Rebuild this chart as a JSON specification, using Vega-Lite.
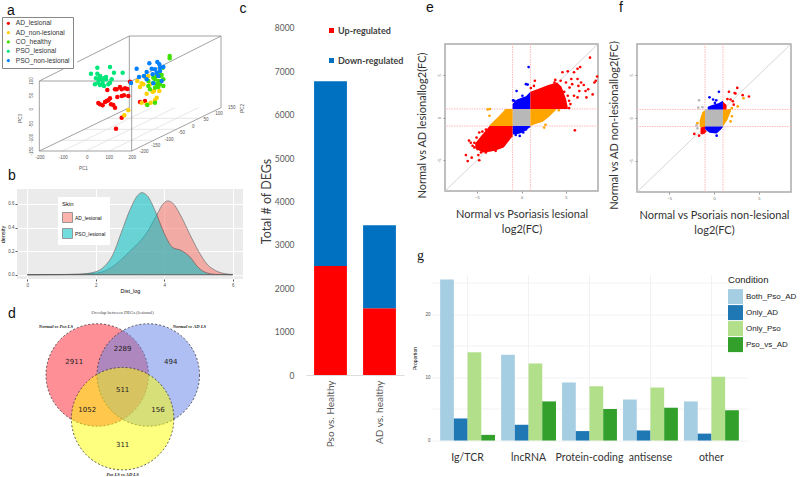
{
"$schema":"https://vega.github.io/schema/vega-lite/v6.json",
"padding":0,"spacing":8,
"resolve":{"scale":{"color":"independent","fill":"independent"},"legend":{"color":"independent"}},
"config":{"view":{"stroke":null},"axis":{"grid":false},"title":{"font":"Liberation Sans","fontSize":14,"fontWeight":"normal","anchor":"start","frame":"group","color":"#111111"}},
"hconcat":[
{"columns":2,"spacing":0,"bounds":"flush","resolve":{"scale":{"color":"independent","fill":"independent"},"legend":{"color":"independent"}},
"concat":[
{"width":17,"height":165,"data":{"values":[{}]},"mark":{"type":"text","text":""},"encoding":{}},
{"width":235,"height":165,"title":{"text":"a","dx":-10,"offset":-16.5},
 "layer":[
 {"data":{"values":[
  {"h":-70,"v":-125,"h2":197,"v2":5},{"h":0,"v":-125,"h2":267,"v2":5},{"h":70,"v":-125,"h2":337,"v2":5},
  {"h":-74,"v":-93,"h2":203,"v2":-93},{"h":-5,"v":-60,"h2":272,"v2":-60},{"h":63,"v":-27,"h2":340,"v2":-27}]},
  "mark":{"type":"rule","color":"#dddddd","strokeWidth":0.7},
  "encoding":{"x":{"field":"h","type":"quantitative","scale":{"domain":[-207,498]},"axis":null},"y":{"field":"v","type":"quantitative","scale":{"domain":[-170,325]},"axis":null},"x2":{"field":"h2"},"y2":{"field":"v2"}}},
 {"data":{"values":[
  {"h":-140,"v":85,"h2":137,"v2":85},{"h":137,"v":85,"h2":137,"v2":-125},{"h":-140,"v":-125,"h2":137,"v2":-125},{"h":-140,"v":85,"h2":-140,"v2":-125},
  {"h":130,"v":220,"h2":405,"v2":220},{"h":405,"v":220,"h2":405,"v2":5},{"h":130,"v":220,"h2":130,"v2":5},{"h":-140,"v":85,"h2":-68,"v2":121},{"h":-26,"v":142,"h2":130,"v2":220},
  {"h":137,"v":85,"h2":405,"v2":220},{"h":137,"v":-125,"h2":405,"v2":5},{"h":-140,"v":-125,"h2":130,"v2":5}]},
  "mark":{"type":"rule","color":"#8a8a8a","strokeWidth":0.8},
  "encoding":{"x":{"field":"h","type":"quantitative","scale":{"domain":[-207,498]},"axis":null},"y":{"field":"v","type":"quantitative","scale":{"domain":[-170,325]},"axis":null},"x2":{"field":"h2"},"y2":{"field":"v2"}}},
 {"data":{"values":[
  {"t":"-200","h":-138,"v":-145},{"t":"-100","h":-68,"v":-145},{"t":"0","h":4,"v":-145},{"t":"100","h":70,"v":-145},{"t":"200","h":139,"v":-145},
  {"t":"150","h":437,"v":5},{"t":"100","h":399,"v":-15},{"t":"50","h":360,"v":-33},{"t":"0","h":322,"v":-53},{"t":"-50","h":287,"v":-72},{"t":"-100","h":249,"v":-91},{"t":"-150","h":209,"v":-111},{"t":"-200","h":174,"v":-128},{"t":"PC1","h":-8,"v":-180}]},
  "mark":{"type":"text","font":"Liberation Sans","fontSize":4.5,"color":"#555555"},
  "encoding":{"x":{"field":"h","type":"quantitative","scale":{"domain":[-207,498]},"axis":null},"y":{"field":"v","type":"quantitative","scale":{"domain":[-170,325]},"axis":null},"text":{"field":"t"}}},
 {"data":{"values":[{"t":"c","h":471,"v":301}]},
  "mark":{"type":"text","font":"Liberation Sans","fontSize":14,"color":"#111111"},
  "encoding":{"x":{"field":"h","type":"quantitative","scale":{"domain":[-207,498]},"axis":null},"y":{"field":"v","type":"quantitative","scale":{"domain":[-170,325]},"axis":null},"text":{"field":"t"}}},
 {"data":{"values":[
  {"t":"100","h":-161,"v":85},{"t":"50","h":-161,"v":42},{"t":"0","h":-161,"v":0},{"t":"-50","h":-161,"v":-45},{"t":"-100","h":-161,"v":-87},{"t":"-150","h":-161,"v":-125},{"t":"PC3","h":-196,"v":-27},{"t":"PC2","h":470,"v":3}]},
  "mark":{"type":"text","font":"Liberation Sans","fontSize":4.5,"color":"#555555","angle":270},
  "encoding":{"x":{"field":"h","type":"quantitative","scale":{"domain":[-207,498]},"axis":null},"y":{"field":"v","type":"quantitative","scale":{"domain":[-170,325]},"axis":null},"text":{"field":"t"}}},
 {"data":{"values":[
  {"g":"AD_lesional","h":90,"v":-58},{"g":"AD_lesional","h":107,"v":-25},{"g":"AD_lesional","h":64,"v":58},{"g":"AD_lesional","h":87,"v":60},{"g":"AD_lesional","h":102,"v":67},{"g":"AD_lesional","h":117,"v":63},{"g":"AD_lesional","h":92,"v":60},{"g":"AD_lesional","h":107,"v":60},{"g":"AD_lesional","h":124,"v":61},{"g":"AD_lesional","h":132,"v":83},{"g":"AD_lesional","h":94,"v":37},{"g":"AD_lesional","h":107,"v":40},{"g":"AD_lesional","h":114,"v":42},{"g":"AD_lesional","h":127,"v":40},{"g":"AD_lesional","h":42,"v":15},{"g":"AD_lesional","h":50,"v":12},{"g":"AD_lesional","h":57,"v":22},{"g":"AD_lesional","h":67,"v":27},{"g":"AD_lesional","h":72,"v":33},{"g":"AD_lesional","h":75,"v":15},{"g":"AD_lesional","h":87,"v":5},{"g":"AD_lesional","h":37,"v":19},{"g":"AD_lesional","h":62,"v":25},{"g":"AD_lesional","h":177,"v":25},{"g":"AD_lesional","h":162,"v":22},{"g":"AD_lesional","h":82,"v":13},
  {"g":"AD_non-lesional","h":115,"v":-18},{"g":"AD_non-lesional","h":127,"v":-3},{"g":"AD_non-lesional","h":154,"v":85},{"g":"AD_non-lesional","h":167,"v":78},{"g":"AD_non-lesional","h":177,"v":97},{"g":"AD_non-lesional","h":187,"v":100},{"g":"AD_non-lesional","h":162,"v":67},{"g":"AD_non-lesional","h":204,"v":55},{"g":"AD_non-lesional","h":220,"v":55},{"g":"AD_non-lesional","h":182,"v":47},{"g":"AD_non-lesional","h":212,"v":35},{"g":"AD_non-lesional","h":207,"v":27},{"g":"AD_non-lesional","h":194,"v":20},{"g":"AD_non-lesional","h":182,"v":15},{"g":"AD_non-lesional","h":167,"v":20},{"g":"AD_non-lesional","h":172,"v":75},{"g":"AD_non-lesional","h":192,"v":75},{"g":"AD_non-lesional","h":200,"v":53},
  {"g":"CO_healthy","h":251,"v":160},{"g":"CO_healthy","h":251,"v":153},{"g":"CO_healthy","h":230,"v":125},{"g":"CO_healthy","h":187,"v":70},{"g":"CO_healthy","h":184,"v":13},{"g":"CO_healthy","h":207,"v":20},{"g":"CO_healthy","h":212,"v":100},{"g":"CO_healthy","h":222,"v":100},{"g":"CO_healthy","h":207,"v":90},{"g":"CO_healthy","h":217,"v":85},{"g":"CO_healthy","h":232,"v":90},{"g":"CO_healthy","h":202,"v":80},{"g":"CO_healthy","h":212,"v":75},{"g":"CO_healthy","h":222,"v":75},{"g":"CO_healthy","h":232,"v":70},{"g":"CO_healthy","h":192,"v":60},{"g":"CO_healthy","h":207,"v":65},{"g":"CO_healthy","h":187,"v":85},{"g":"CO_healthy","h":220,"v":110},{"g":"CO_healthy","h":202,"v":95},{"g":"CO_healthy","h":227,"v":103},{"g":"CO_healthy","h":217,"v":67},
  {"g":"PSO_lesional","h":34,"v":125},{"g":"PSO_lesional","h":72,"v":127},{"g":"PSO_lesional","h":15,"v":107},{"g":"PSO_lesional","h":84,"v":110},{"g":"PSO_lesional","h":110,"v":110},{"g":"PSO_lesional","h":34,"v":107},{"g":"PSO_lesional","h":42,"v":100},{"g":"PSO_lesional","h":52,"v":93},{"g":"PSO_lesional","h":60,"v":90},{"g":"PSO_lesional","h":30,"v":93},{"g":"PSO_lesional","h":37,"v":90},{"g":"PSO_lesional","h":47,"v":90},{"g":"PSO_lesional","h":77,"v":90},{"g":"PSO_lesional","h":72,"v":80},{"g":"PSO_lesional","h":27,"v":75},{"g":"PSO_lesional","h":42,"v":73},{"g":"PSO_lesional","h":54,"v":70},{"g":"PSO_lesional","h":67,"v":75},{"g":"PSO_lesional","h":37,"v":80},{"g":"PSO_lesional","h":50,"v":80},{"g":"PSO_lesional","h":60,"v":97},
  {"g":"PSO_non-lesional","h":135,"v":79},{"g":"PSO_non-lesional","h":152,"v":122},{"g":"PSO_non-lesional","h":190,"v":138},{"g":"PSO_non-lesional","h":214,"v":142},{"g":"PSO_non-lesional","h":220,"v":135},{"g":"PSO_non-lesional","h":222,"v":125},{"g":"PSO_non-lesional","h":197,"v":122},{"g":"PSO_non-lesional","h":182,"v":112},{"g":"PSO_non-lesional","h":159,"v":97},{"g":"PSO_non-lesional","h":207,"v":120},{"g":"PSO_non-lesional","h":222,"v":115},{"g":"PSO_non-lesional","h":232,"v":127},{"g":"PSO_non-lesional","h":182,"v":90},{"g":"PSO_non-lesional","h":202,"v":78},{"g":"PSO_non-lesional","h":227,"v":85},{"g":"PSO_non-lesional","h":212,"v":110},{"g":"PSO_non-lesional","h":217,"v":100},{"g":"PSO_non-lesional","h":200,"v":105},{"g":"PSO_non-lesional","h":174,"v":100}]},
  "mark":{"type":"circle","size":20,"opacity":1},
  "encoding":{"x":{"field":"h","type":"quantitative","scale":{"domain":[-207,498]},"axis":null},"y":{"field":"v","type":"quantitative","scale":{"domain":[-170,325]},"axis":null},
   "color":{"field":"g","type":"nominal","scale":{"domain":["AD_lesional","AD_non-lesional","CO_healthy","PSO_lesional","PSO_non-lesional"],"range":["#ff0000","#ffd000","#40e000","#00e67a","#0080ff"]},
    "legend":{"title":null,"orient":"none","legendX":-15,"legendY":16,"fillColor":"#ffffff","strokeColor":"#888888","padding":3,"symbolSize":10,"labelFont":"Liberation Sans","labelFontSize":6.7,"labelColor":"#333333","rowPadding":1.3,"labelOffset":4}}}}
 ]},
{"width":17,"height":23,"data":{"values":[{}]},"mark":{"type":"text","text":""},"encoding":{}},
{"width":1,"height":23,"data":{"values":[{}]},"mark":{"type":"text","text":""},"encoding":{}},
{"width":17,"height":90,"data":{"values":[{}]},"mark":{"type":"text","text":""},"encoding":{}},
{"width":226,"height":90,"title":{"text":"b","dx":-9,"offset":6},"view":{"fill":"#ebebeb","stroke":null},
 "data":{"values":[
  {"s":"AD_lesional","x":0,"d":0},{"s":"AD_lesional","x":1,"d":0.002},{"s":"AD_lesional","x":1.5,"d":0.004},{"s":"AD_lesional","x":2,"d":0.012},{"s":"AD_lesional","x":2.25,"d":0.03},{"s":"AD_lesional","x":2.5,"d":0.07},{"s":"AD_lesional","x":2.75,"d":0.13},{"s":"AD_lesional","x":3,"d":0.2},{"s":"AD_lesional","x":3.25,"d":0.27},{"s":"AD_lesional","x":3.5,"d":0.36},{"s":"AD_lesional","x":3.75,"d":0.49},{"s":"AD_lesional","x":4,"d":0.61},{"s":"AD_lesional","x":4.1,"d":0.625},{"s":"AD_lesional","x":4.25,"d":0.605},{"s":"AD_lesional","x":4.5,"d":0.49},{"s":"AD_lesional","x":4.75,"d":0.34},{"s":"AD_lesional","x":5,"d":0.2},{"s":"AD_lesional","x":5.25,"d":0.09},{"s":"AD_lesional","x":5.5,"d":0.035},{"s":"AD_lesional","x":5.75,"d":0.01},{"s":"AD_lesional","x":6,"d":0.002},
  {"s":"PSO_lesional","x":0,"d":0},{"s":"PSO_lesional","x":1,"d":0.001},{"s":"PSO_lesional","x":1.5,"d":0.004},{"s":"PSO_lesional","x":2,"d":0.025},{"s":"PSO_lesional","x":2.25,"d":0.07},{"s":"PSO_lesional","x":2.5,"d":0.17},{"s":"PSO_lesional","x":2.75,"d":0.36},{"s":"PSO_lesional","x":3,"d":0.55},{"s":"PSO_lesional","x":3.25,"d":0.68},{"s":"PSO_lesional","x":3.35,"d":0.695},{"s":"PSO_lesional","x":3.5,"d":0.67},{"s":"PSO_lesional","x":3.75,"d":0.53},{"s":"PSO_lesional","x":4,"d":0.35},{"s":"PSO_lesional","x":4.25,"d":0.23},{"s":"PSO_lesional","x":4.5,"d":0.205},{"s":"PSO_lesional","x":4.75,"d":0.15},{"s":"PSO_lesional","x":5,"d":0.06},{"s":"PSO_lesional","x":5.25,"d":0.015},{"s":"PSO_lesional","x":5.5,"d":0.003},{"s":"PSO_lesional","x":6,"d":0}]},
 "mark":{"type":"area","interpolate":"monotone","opacity":0.55,"stroke":"#333333","strokeWidth":0.9,"strokeOpacity":1},
 "encoding":{
  "x":{"field":"x","type":"quantitative","scale":{"domain":[-0.3,6.3],"nice":false},"axis":{"values":[0,2,4,6],"grid":true,"gridColor":"#ffffff","domain":false,"tickSize":2,"tickColor":"#555555","labelFont":"Liberation Sans","labelFontSize":4.5,"labelColor":"#4d4d4d","labelPadding":1,"title":"Dist_log","titleFont":"Liberation Sans","titleFontSize":5.5,"titleFontWeight":"normal","titlePadding":2,"format":"d"}},
  "y":{"field":"d","type":"quantitative","stack":null,"scale":{"domain":[-0.036,0.726],"nice":false,"zero":false},"axis":{"values":[0,0.2,0.4,0.6],"format":".1f","grid":true,"gridColor":"#ffffff","domain":false,"tickSize":2,"tickColor":"#555555","labelFont":"Liberation Sans","labelFontSize":4.5,"labelColor":"#4d4d4d","labelPadding":1,"title":"density","titleFont":"Liberation Sans","titleFontSize":5.5,"titleFontWeight":"normal","titlePadding":2}},
  "color":{"field":"s","type":"nominal","scale":{"domain":["AD_lesional","PSO_lesional"],"range":["#f8766d","#00bfc4"]},"legend":{"title":"Skin","titleFont":"Liberation Sans","titleFontSize":6,"titleFontWeight":"normal","titleColor":"#111111","orient":"none","legendX":41,"legendY":8,"fillColor":"#ffffff","padding":4,"symbolType":"square","symbolSize":100,"symbolStrokeColor":"#333333","symbolStrokeWidth":0.9,"labelFont":"Liberation Sans","labelFontSize":5,"labelColor":"#111111","rowPadding":1,"labelOffset":2}}}},
{"width":17,"height":17,"data":{"values":[{}]},"mark":{"type":"text","text":""},"encoding":{}},
{"width":1,"height":17,"data":{"values":[{}]},"mark":{"type":"text","text":""},"encoding":{}},
{"width":17,"height":182,"data":{"values":[{}]},"mark":{"type":"text","text":""},"encoding":{}},
{"width":235,"height":182,"title":{"text":"d","dx":-9,"offset":-25},
 "layer":[
 {"data":{"values":[{"set":"Normal vs Pso LS","vx":36,"vy":43.4},{"set":"Normal vs AD LS","vx":54.9,"vy":43.4},{"set":"Pso LS vs AD LS","vx":45.4,"vy":67.4}]},
  "mark":{"type":"point","filled":true,"size":10500,"fillOpacity":0.5,"stroke":"#333333","strokeWidth":0.8,"strokeOpacity":1,"strokeDash":[2,2],"opacity":1},
  "encoding":{"x":{"field":"vx","type":"quantitative","scale":{"domain":[6.3,93.3]},"axis":null},"y":{"field":"vy","type":"quantitative","scale":{"domain":[100,0]},"axis":null},
   "fill":{"field":"set","type":"nominal","sort":null,"scale":{"domain":["Normal vs Pso LS","Normal vs AD LS","Pso LS vs AD LS"],"range":["#ff2030","#6080e8","#ffff00"]},"legend":null}}},
 {"data":{"values":[{"n":"2911","vx":27.5,"vy":36.1},{"n":"2289","vx":45.4,"vy":28.9},{"n":"494","vx":63.2,"vy":36.1},{"n":"511","vx":45.4,"vy":51.5},{"n":"1052","vx":32.3,"vy":62.8},{"n":"156","vx":58.5,"vy":62.8},{"n":"311","vx":45.4,"vy":81.9}]},
  "mark":{"type":"text","font":"DejaVu Sans","fontSize":7,"color":"#222222"},
  "encoding":{"x":{"field":"vx","type":"quantitative","scale":{"domain":[6.3,93.3]},"axis":null},"y":{"field":"vy","type":"quantitative","scale":{"domain":[100,0]},"axis":null},"text":{"field":"n"}}},
 {"data":{"values":[{"n":"Normal vs Pso LS","vx":20.7,"vy":17},{"n":"Normal vs AD LS","vx":70.1,"vy":17},{"n":"Pso LS vs AD LS","vx":45.4,"vy":98.5}]},
  "mark":{"type":"text","font":"Liberation Serif","fontSize":4.6,"fontStyle":"italic","fontWeight":"bold","color":"#222222"},
  "encoding":{"x":{"field":"vx","type":"quantitative","scale":{"domain":[6.3,93.3]},"axis":null},"y":{"field":"vy","type":"quantitative","scale":{"domain":[100,0]},"axis":null},"text":{"field":"n"}}},
 {"data":{"values":[{"n":"Overlap between DEGs (lesional)","vx":45.4,"vy":9.5}]},
  "mark":{"type":"text","font":"Liberation Serif","fontSize":4.6,"color":"#444444"},
  "encoding":{"x":{"field":"vx","type":"quantitative","scale":{"domain":[6.3,93.3]},"axis":null},"y":{"field":"vy","type":"quantitative","scale":{"domain":[100,0]},"axis":null},"text":{"field":"n"}}}
 ]}
]},
{"width":98,"height":374,
 "data":{"values":[
  {"c":"Pso vs. Healthy","r":"Up-regulated","o":1,"n":2510},{"c":"Pso vs. Healthy","r":"Down-regulated","o":2,"n":4260},
  {"c":"AD vs. healthy","r":"Up-regulated","o":1,"n":1536},{"c":"AD vs. healthy","r":"Down-regulated","o":2,"n":1912}]},
 "mark":{"type":"bar"},
 "encoding":{
  "x":{"field":"c","type":"nominal","sort":null,"scale":{"paddingInner":0.33,"paddingOuter":0.165},"axis":{"title":null,"labelAngle":-90,"labelFont":"Lato","labelFontSize":10,"labelColor":"#595959","ticks":false,"domainColor":"#dddddd","labelPadding":5}},
  "y":{"field":"n","type":"quantitative","stack":"zero","scale":{"domain":[0,8618],"nice":false},"axis":{"values":[0,1000,2000,3000,4000,5000,6000,7000,8000],"format":"d","domain":false,"ticks":false,"labelFont":"Lato","labelFontSize":8.5,"labelColor":"#595959","labelPadding":12,"title":"Total # of DEGs","titleFont":"Lato","titleFontSize":12.5,"titleFontWeight":"normal","titleColor":"#404040","titleX":-33,"titleY":200}},
  "color":{"field":"r","type":"nominal","scale":{"domain":["Up-regulated","Down-regulated"],"range":["#ff0000","#0070c0"]},"legend":{"title":null,"orient":"none","legendX":21,"legendY":25,"symbolType":"square","symbolSize":25,"labelFont":"Lato","labelFontSize":9,"labelFontWeight":"bold","labelColor":"#404040","rowPadding":20,"labelOffset":2}},
  "order":{"field":"o","type":"quantitative"}}},
{"spacing":12.5,"resolve":{"scale":{"color":"independent","fill":"independent"},"legend":{"color":"independent"}},
"vconcat":[
{"columns":4,"spacing":0,"bounds":"flush","resolve":{"scale":{"color":"independent","fill":"independent"},"legend":{"color":"independent"}},
"concat":[
{"width":14,"height":43,"data":{"values":[{}]},"mark":{"type":"text","text":""},"encoding":{}},
{"width":1,"height":43,"data":{"values":[{}]},"mark":{"type":"text","text":""},"encoding":{}},
{"width":1,"height":43,"data":{"values":[{}]},"mark":{"type":"text","text":""},"encoding":{}},
{"width":1,"height":43,"data":{"values":[{}]},"mark":{"type":"text","text":""},"encoding":{}},
{"width":14,"height":1,"data":{"values":[{}]},"mark":{"type":"text","text":""},"encoding":{}},
{"width":153,"height":147,"view":{"stroke":"#aaaaaa","strokeWidth":1.5},
 "layer":[
 {"data":{"values":[{"x":-1},{"x":1}]},"mark":{"type":"rule","color":"#ffb9b9","strokeWidth":1,"strokeDash":[1.5,1]},
  "encoding":{"x":{"field":"x","type":"quantitative","scale":{"domain":[-8.6,8.6],"nice":false},"axis":{"values":[-5,0,5],"format":"d","domain":false,"tickSize":2,"tickColor":"#999999","labelFont":"Liberation Sans","labelFontSize":4,"labelColor":"#666666","labelPadding":2,"title":["Normal vs Psoriasis lesional","log2(FC)"],"titleFont":"Lato","titleFontSize":11,"titleFontWeight":"normal","titleColor":"#333333","titleLineHeight":15,"titlePadding":9}}}},
 {"data":{"values":[{"y":-1},{"y":1}]},"mark":{"type":"rule","color":"#ffb9b9","strokeWidth":1,"strokeDash":[1.5,1]},
  "encoding":{"y":{"field":"y","type":"quantitative","scale":{"domain":[-8.6,8.6],"nice":false},"axis":{"values":[-5,0,5],"format":"d","domain":false,"tickSize":2,"tickColor":"#999999","labelFont":"Liberation Sans","labelFontSize":4,"labelAngle":-90,"labelColor":"#666666","labelPadding":2,"title":"Normal vs AD lesionallog2(FC)","titleFont":"Lato","titleFontSize":11,"titleFontWeight":"normal","titleColor":"#333333","titleX":-18,"titleY":81}}}},
 {"data":{"values":[{"x":-8.6,"y":-8.6,"x2":8.6,"y2":8.6}]},"mark":{"type":"rule","color":"#cccccc","strokeWidth":0.8},
  "encoding":{"x":{"field":"x","type":"quantitative"},"y":{"field":"y","type":"quantitative"},"x2":{"field":"x2"},"y2":{"field":"y2"}}},
 {"data":{"values":[{"t":"e","x":-10.3,"y":12.8}]},"mark":{"type":"text","font":"Liberation Sans","fontSize":14,"color":"#111111"},
  "encoding":{"x":{"field":"x","type":"quantitative"},"y":{"field":"y","type":"quantitative"},"text":{"field":"t"}}},
 {"data":{"values":[
  {"r":"a","cat":"grey","x":-1,"y":-1,"y2":1},{"r":"a","cat":"grey","x":1,"y":-1,"y2":1},
  {"r":"b","cat":"orange","x":-3.6,"y":-1,"y2":-0.9},{"r":"b","cat":"orange","x":-2.5,"y":-1,"y2":0.2},{"r":"b","cat":"orange","x":-1.8,"y":-1,"y2":1},{"r":"b","cat":"orange","x":-1,"y":-1,"y2":1},
  {"r":"c","cat":"orange","x":1,"y":-1,"y2":1},{"r":"c","cat":"orange","x":1.5,"y":-0.8,"y2":1},{"r":"c","cat":"orange","x":2.4,"y":-0.5,"y2":1},{"r":"c","cat":"orange","x":3.1,"y":0.1,"y2":1},{"r":"c","cat":"orange","x":3.9,"y":0.9,"y2":1},
  {"r":"d","cat":"blue","x":-1,"y":1,"y2":1.6},{"r":"d","cat":"blue","x":-0.5,"y":1,"y2":2.1},{"r":"d","cat":"blue","x":0,"y":1,"y2":2.3},{"r":"d","cat":"blue","x":0.5,"y":1,"y2":2.5},{"r":"d","cat":"blue","x":1,"y":1,"y2":3},
  {"r":"e","cat":"blue","x":-1,"y":-2,"y2":-1},{"r":"e","cat":"blue","x":-0.5,"y":-1.95,"y2":-1},{"r":"e","cat":"blue","x":0,"y":-1.8,"y2":-1},{"r":"e","cat":"blue","x":0.5,"y":-1.5,"y2":-1},{"r":"e","cat":"blue","x":1,"y":-1.1,"y2":-1},
  {"r":"f","cat":"red","x":1,"y":1,"y2":3},{"r":"f","cat":"red","x":2,"y":1,"y2":3.4},{"r":"f","cat":"red","x":3,"y":1,"y2":3.8},{"r":"f","cat":"red","x":4,"y":1,"y2":4.1},{"r":"f","cat":"red","x":4.5,"y":1,"y2":3.6},{"r":"f","cat":"red","x":5,"y":1,"y2":2.2},{"r":"f","cat":"red","x":5.2,"y":1,"y2":1.2},
  {"r":"g","cat":"red","x":-5.2,"y":-3.6,"y2":-3},{"r":"g","cat":"red","x":-4.4,"y":-4.1,"y2":-2},{"r":"g","cat":"red","x":-3.6,"y":-4,"y2":-1},{"r":"g","cat":"red","x":-3,"y":-3.9,"y2":-1},{"r":"g","cat":"red","x":-2,"y":-3.5,"y2":-1},{"r":"g","cat":"red","x":-1,"y":-2.2,"y2":-1}]},
  "mark":{"type":"area"},
  "encoding":{"x":{"field":"x","type":"quantitative"},"y":{"field":"y","type":"quantitative"},"y2":{"field":"y2"},"detail":{"field":"r"},
   "color":{"field":"cat","type":"nominal","scale":{"domain":["grey","orange","blue","red"],"range":["#b8b8b8","#ffa500","#0000ff","#ff0000"]},"legend":null}}},
 {"data":{"values":[
  {"cat":"red","x":7.7,"y":7},{"cat":"red","x":6.6,"y":5.9},{"cat":"red","x":6.3,"y":5.7},{"cat":"red","x":5.9,"y":5.3},{"cat":"red","x":5.2,"y":5.4},{"cat":"red","x":4.6,"y":5.3},{"cat":"red","x":3.8,"y":4.4},{"cat":"red","x":3.7,"y":4.1},{"cat":"red","x":5.6,"y":4.5},{"cat":"red","x":6.3,"y":4.5},{"cat":"red","x":6.7,"y":4.1},{"cat":"red","x":5.7,"y":3.9},{"cat":"red","x":5,"y":4.1},{"cat":"red","x":5.4,"y":3.5},{"cat":"red","x":6.4,"y":3.7},{"cat":"red","x":7,"y":3.8},{"cat":"red","x":8.35,"y":4.3},{"cat":"red","x":8.5,"y":4.8},{"cat":"red","x":8.2,"y":4.1},{"cat":"red","x":7.2,"y":3.1},{"cat":"red","x":7.5,"y":3.3},{"cat":"red","x":8,"y":2.7},{"cat":"red","x":7.3,"y":2.35},{"cat":"red","x":6.5,"y":3.1},{"cat":"red","x":5.9,"y":2.55},{"cat":"red","x":6.3,"y":2.35},{"cat":"red","x":5.2,"y":2.55},{"cat":"red","x":5.35,"y":1.96},{"cat":"red","x":5.5,"y":1.57},{"cat":"red","x":5.35,"y":1.1},{"cat":"red","x":5,"y":1.25},{"cat":"red","x":6,"y":-1.5},{"cat":"red","x":1.5,"y":4.3},{"cat":"red","x":2.4,"y":3.1},{"cat":"red","x":2.7,"y":3.3},{"cat":"red","x":1.05,"y":3.45},{"cat":"red","x":1.4,"y":3.7},{"cat":"red","x":4.4,"y":4.3},{"cat":"red","x":4,"y":3.5},{"cat":"red","x":4.8,"y":3},{"cat":"red","x":4.6,"y":2.4},
  {"cat":"red","x":-6.25,"y":-4.4},{"cat":"red","x":-6.05,"y":-5.1},{"cat":"red","x":-5.6,"y":-4.7},{"cat":"red","x":-4.75,"y":-5},{"cat":"red","x":-5.9,"y":-2.7},{"cat":"red","x":-5.7,"y":-2.95},{"cat":"red","x":-5.5,"y":-3.3},{"cat":"red","x":-5.3,"y":-3.5},{"cat":"red","x":-5.05,"y":-2.35},{"cat":"red","x":-4.75,"y":-1.75},{"cat":"red","x":-4.4,"y":-1.65},{"cat":"red","x":-4,"y":-1.4},{"cat":"red","x":-2.9,"y":-3.9},{"cat":"red","x":-4,"y":-4.1},{"cat":"red","x":-4.55,"y":-4.1},{"cat":"red","x":-4.95,"y":-3.7},{"cat":"red","x":-5.3,"y":-2.95},{"cat":"red","x":-4.85,"y":-4.4},
  {"cat":"blue","x":0.8,"y":5.9},{"cat":"blue","x":0.5,"y":3.9},{"cat":"blue","x":0.7,"y":3.85},{"cat":"blue","x":-0.55,"y":3.1},{"cat":"blue","x":0.1,"y":2.55},{"cat":"blue","x":-0.8,"y":1.96},{"cat":"blue","x":-0.95,"y":2},{"cat":"blue","x":-0.2,"y":-2.15},{"cat":"blue","x":-0.65,"y":-2.05},{"cat":"blue","x":0.2,"y":-1.75},{"cat":"blue","x":0.5,"y":-1.4},
  {"cat":"orange","x":-3.8,"y":0.95},{"cat":"orange","x":-3.6,"y":0.2},{"cat":"orange","x":-3.55,"y":1},{"cat":"orange","x":2.7,"y":-0.86},{"cat":"orange","x":2.55,"y":-1.18},{"cat":"orange","x":4.2,"y":0.85}]},
  "mark":{"type":"circle","size":7,"opacity":1},
  "encoding":{"x":{"field":"x","type":"quantitative"},"y":{"field":"y","type":"quantitative"},
   "color":{"field":"cat","type":"nominal","scale":{"domain":["grey","orange","blue","red"],"range":["#b8b8b8","#ffa500","#0000ff","#ff0000"]},"legend":null}}}
 ]},
{"width":39,"height":1,"data":{"values":[{}]},"mark":{"type":"text","text":""},"encoding":{}},
{"width":154,"height":148,"view":{"stroke":"#aaaaaa","strokeWidth":1.5},
 "layer":[
 {"data":{"values":[{"x":-1},{"x":1}]},"mark":{"type":"rule","color":"#ffb9b9","strokeWidth":1,"strokeDash":[1.5,1]},
  "encoding":{"x":{"field":"x","type":"quantitative","scale":{"domain":[-8.6,8.6],"nice":false},"axis":{"values":[-5,0,5],"format":"d","domain":false,"tickSize":2,"tickColor":"#999999","labelFont":"Liberation Sans","labelFontSize":4,"labelColor":"#666666","labelPadding":2,"title":["Normal vs Psoriais non-lesional","log2(FC)"],"titleFont":"Lato","titleFontSize":11,"titleFontWeight":"normal","titleColor":"#333333","titleLineHeight":15,"titlePadding":9}}}},
 {"data":{"values":[{"y":-1},{"y":1}]},"mark":{"type":"rule","color":"#ffb9b9","strokeWidth":1,"strokeDash":[1.5,1]},
  "encoding":{"y":{"field":"y","type":"quantitative","scale":{"domain":[-8.6,8.6],"nice":false},"axis":{"values":[-5,0,5],"format":"d","domain":false,"tickSize":2,"tickColor":"#999999","labelFont":"Liberation Sans","labelFontSize":4,"labelAngle":-90,"labelColor":"#666666","labelPadding":2,"title":"Normal vs AD non-lesionallog2(FC)","titleFont":"Lato","titleFontSize":11,"titleFontWeight":"normal","titleColor":"#333333","titleX":-18,"titleY":81}}}},
 {"data":{"values":[{"x":-8.6,"y":-8.6,"x2":8.6,"y2":8.6}]},"mark":{"type":"rule","color":"#cccccc","strokeWidth":0.8},
  "encoding":{"x":{"field":"x","type":"quantitative"},"y":{"field":"y","type":"quantitative"},"x2":{"field":"x2"},"y2":{"field":"y2"}}},
 {"data":{"values":[{"t":"f","x":-10.4,"y":12.8}]},"mark":{"type":"text","font":"Liberation Sans","fontSize":14,"color":"#111111"},
  "encoding":{"x":{"field":"x","type":"quantitative"},"y":{"field":"y","type":"quantitative"},"text":{"field":"t"}}},
 {"data":{"values":[
  {"r":"a","cat":"grey","x":-1,"y":-1,"y2":1},{"r":"a","cat":"grey","x":1,"y":-1,"y2":1},
  {"r":"b","cat":"orange","x":-1.6,"y":-1,"y2":-0.3},{"r":"b","cat":"orange","x":-1.3,"y":-1.1,"y2":0.7},{"r":"b","cat":"orange","x":-1,"y":-1,"y2":0.9},
  {"r":"c","cat":"orange","x":1,"y":-1,"y2":1},{"r":"c","cat":"orange","x":1.5,"y":-0.2,"y2":1},{"r":"c","cat":"orange","x":1.9,"y":0.8,"y2":1.1},
  {"r":"d","cat":"blue","x":-0.7,"y":1,"y2":1.3},{"r":"d","cat":"blue","x":-0.2,"y":1,"y2":1.5},{"r":"d","cat":"blue","x":0.5,"y":1,"y2":1.7},{"r":"d","cat":"blue","x":1,"y":1,"y2":2},
  {"r":"e","cat":"blue","x":-1,"y":-1.3,"y2":-1},{"r":"e","cat":"blue","x":-0.5,"y":-1.7,"y2":-1},{"r":"e","cat":"blue","x":0.3,"y":-1.8,"y2":-1},{"r":"e","cat":"blue","x":0.8,"y":-1.3,"y2":-1},{"r":"e","cat":"blue","x":1,"y":-1.05,"y2":-1},
  {"r":"f","cat":"red","x":1,"y":1,"y2":1.9},{"r":"f","cat":"red","x":1.4,"y":1,"y2":1.5},
  {"r":"g","cat":"red","x":-1.5,"y":-1.9,"y2":-1.1},{"r":"g","cat":"red","x":-1,"y":-1.8,"y2":-1}]},
  "mark":{"type":"area"},
  "encoding":{"x":{"field":"x","type":"quantitative"},"y":{"field":"y","type":"quantitative"},"y2":{"field":"y2"},"detail":{"field":"r"},
   "color":{"field":"cat","type":"nominal","scale":{"domain":["grey","orange","blue","red"],"range":["#b8b8b8","#ffa500","#0000ff","#ff0000"]},"legend":null}}},
 {"data":{"values":[
  {"cat":"red","x":3.9,"y":2.5},{"cat":"red","x":3.2,"y":2.65},{"cat":"red","x":2.6,"y":3.5},{"cat":"red","x":2.3,"y":2.9},{"cat":"red","x":1.67,"y":3.05},{"cat":"red","x":2.4,"y":2.85},{"cat":"red","x":1.85,"y":2.15},{"cat":"red","x":2.1,"y":1.95},{"cat":"red","x":1.5,"y":2.2},{"cat":"red","x":2.2,"y":1.55},{"cat":"red","x":-2.2,"y":-1.85},{"cat":"red","x":-1.67,"y":-2.05},{"cat":"red","x":-1.3,"y":-1.75},{"cat":"red","x":-1,"y":-1.55},
  {"cat":"orange","x":3.3,"y":2.3},{"cat":"orange","x":2.65,"y":1.35},{"cat":"orange","x":2,"y":0.2},{"cat":"orange","x":1.85,"y":-0.4},{"cat":"orange","x":2,"y":1.15},{"cat":"orange","x":1.67,"y":0.8},{"cat":"orange","x":-1.85,"y":-0.6},
  {"cat":"blue","x":0.55,"y":3.05},{"cat":"blue","x":-0.5,"y":2.4},{"cat":"blue","x":-0.1,"y":2.15},{"cat":"blue","x":0.25,"y":2.05},{"cat":"blue","x":0.1,"y":1.75},{"cat":"blue","x":0.3,"y":-2.05},
  {"cat":"grey","x":-1.67,"y":2.05},{"cat":"grey","x":-1.75,"y":1.2},{"cat":"grey","x":-1.3,"y":1.25},{"cat":"grey","x":-1.95,"y":-0.85},{"cat":"grey","x":-1.85,"y":-1.2}]},
  "mark":{"type":"circle","size":7,"opacity":1},
  "encoding":{"x":{"field":"x","type":"quantitative"},"y":{"field":"y","type":"quantitative"},
   "color":{"field":"cat","type":"nominal","scale":{"domain":["grey","orange","blue","red"],"range":["#b8b8b8","#ffa500","#0000ff","#ff0000"]},"legend":null}}}
 ]}
]},
{"width":317,"height":167,"title":{"text":"g","font":"Liberation Serif","dx":-14,"offset":12},
 "data":{"values":[
  {"t":"Ig/TCR","k":"Both_Pso_AD","p":25.5},{"t":"Ig/TCR","k":"Only_AD","p":3.5},{"t":"Ig/TCR","k":"Only_Pso","p":14},{"t":"Ig/TCR","k":"Pso_vs_AD","p":0.9},
  {"t":"lncRNA","k":"Both_Pso_AD","p":13.6},{"t":"lncRNA","k":"Only_AD","p":2.5},{"t":"lncRNA","k":"Only_Pso","p":12.2},{"t":"lncRNA","k":"Pso_vs_AD","p":6.2},
  {"t":"Protein-coding","k":"Both_Pso_AD","p":9.2},{"t":"Protein-coding","k":"Only_AD","p":1.5},{"t":"Protein-coding","k":"Only_Pso","p":8.6},{"t":"Protein-coding","k":"Pso_vs_AD","p":5},
  {"t":"antisense","k":"Both_Pso_AD","p":6.5},{"t":"antisense","k":"Only_AD","p":1.6},{"t":"antisense","k":"Only_Pso","p":8.4},{"t":"antisense","k":"Pso_vs_AD","p":5.2},
  {"t":"other","k":"Both_Pso_AD","p":6.2},{"t":"other","k":"Only_AD","p":1.1},{"t":"other","k":"Only_Pso","p":10.1},{"t":"other","k":"Pso_vs_AD","p":4.8}]},
 "mark":{"type":"bar"},
 "encoding":{
  "x":{"field":"t","type":"nominal","sort":null,"scale":{"paddingInner":0.1,"paddingOuter":0.15},"axis":{"title":null,"labelAngle":0,"grid":true,"gridColor":"#f2f2f2","domain":false,"ticks":false,"labelFont":"Lato","labelFontSize":10.5,"labelColor":"#333333","labelPadding":11}},
  "xOffset":{"field":"k","type":"nominal"},
  "y":{"field":"p","type":"quantitative","scale":{"domain":[-0.15,26.3],"nice":false,"zero":false},"axis":{"values":[0,5,10,15,20,25],"labelExpr":"datum.value%10==0?datum.label:''","grid":true,"gridColor":"#f2f2f2","domain":false,"ticks":false,"labelFont":"Liberation Sans","labelFontSize":4.5,"labelColor":"#4d4d4d","labelPadding":1,"title":"Proportion","titleFont":"Liberation Sans","titleFontSize":5,"titleFontWeight":"normal","titlePadding":7.5}},
  "color":{"field":"k","type":"nominal","scale":{"domain":["Both_Pso_AD","Only_AD","Only_Pso","Pso_vs_AD"],"range":["#a6cee3","#1f78b4","#b2df8a","#33a02c"]},"legend":{"title":"Condition","titleFont":"Liberation Sans","titleFontSize":9.6,"titleFontWeight":"normal","titleColor":"#222222","orient":"none","legendX":297,"legendY":0,"symbolType":"square","symbolSize":225,"symbolStrokeWidth":0,"symbolOpacity":1,"labelFont":"Liberation Sans","labelFontSize":8,"labelColor":"#222222","labelOffset":3,"rowPadding":1,"padding":0,"labelLimit":80}}}}
]}
]}
